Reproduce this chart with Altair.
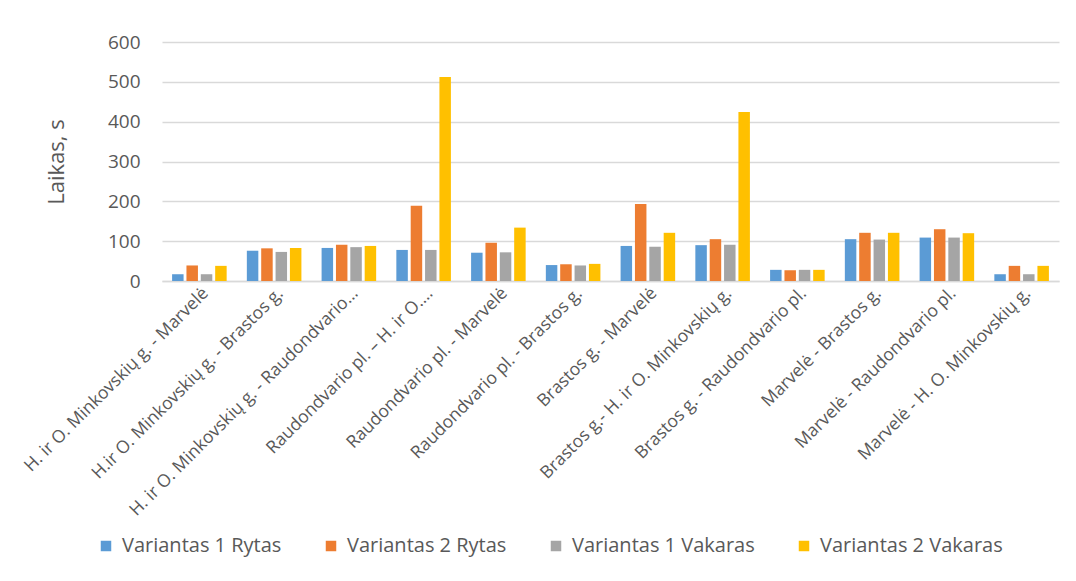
import altair as alt
import pandas as pd

categories = [
    "H. ir O. Minkovskių g. - Marvelė",
    "H.ir O. Minkovskių g. - Brastos g.",
    "H. ir O. Minkovskių g. - Raudondvario…",
    "Raudondvario pl. – H. ir O.…",
    "Raudondvario pl. - Marvelė",
    "Raudondvario pl. - Brastos g.",
    "Brastos g. - Marvelė",
    "Brastos g.- H. ir O. Minkovskių g.",
    "Brastos g. - Raudondvario pl.",
    "Marvelė - Brastos g.",
    "Marvelė - Raudondvario pl.",
    "Marvelė - H. O. Minkovskių g.",
]
series = ["Variantas 1 Rytas", "Variantas 2 Rytas", "Variantas 1 Vakaras", "Variantas 2 Vakaras"]
v1_rytas = [17, 76, 83, 78, 71, 40, 88, 90, 28, 105, 109, 17]
v2_rytas = [39, 82, 91, 189, 96, 42, 193, 105, 27, 121, 130, 38]
v1_vakaras = [17, 73, 85, 78, 72, 39, 86, 91, 28, 104, 109, 17]
v2_vakaras = [38, 83, 88, 512, 134, 43, 121, 424, 28, 121, 120, 38]
colors = ["#5B9BD5", "#ED7D31", "#A5A5A5", "#FFC000"]
y_ticks = [0, 100, 200, 300, 400, 500, 600]

rows = []
for s, vals in zip(series, [v1_rytas, v2_rytas, v1_vakaras, v2_vakaras]):
    for c, v in zip(categories, vals):
        rows.append({"Kelias": c, "Serija": s, "Laikas": v})
df = pd.DataFrame(rows)

FONT = "Open Sans"
TXT = "#595959"

chart = alt.Chart(df).mark_bar().encode(
    x=alt.X("Kelias:N", sort=categories,
            scale=alt.Scale(paddingInner=0.27, paddingOuter=0.135),
            axis=alt.Axis(title=None, labelAngle=-45, labelAlign="right", labelBaseline="top",
                          labelFontSize=17.5, labelColor=TXT, labelFont=FONT, labelLimit=400,
                          labelPadding=3, ticks=False, domainColor="#D9D9D9", domainWidth=1.5,
                          grid=False)),
    xOffset=alt.XOffset("Serija:N", sort=series, scale=alt.Scale(paddingInner=0.2, paddingOuter=0)),
    y=alt.Y("Laikas:Q", scale=alt.Scale(domain=[0, 600], nice=False),
            axis=alt.Axis(title="Laikas, s", values=y_ticks, labelFontSize=19, labelColor=TXT,
                          labelFont=FONT, labelPadding=22, ticks=False, domain=False,
                          gridColor="#D9D9D9", gridWidth=1.5, titleFontSize=22,
                          titleColor=TXT, titleFont=FONT, titleFontWeight="normal",
                          titlePadding=39)),
    color=alt.Color("Serija:N", sort=series, scale=alt.Scale(domain=series, range=colors),
                    legend=alt.Legend(title=None, orient="none", direction="horizontal",
                                      columns=4, legendX=-66, legendY=494,
                                      symbolType="square", symbolSize=110, symbolStrokeWidth=0,
                                      labelFontSize=20, labelColor=TXT, labelFont=FONT,
                                      labelLimit=400, columnPadding=39, labelOffset=6)),
).properties(
    width=897,
    height=239,
    autosize=alt.AutoSizeParams(type="none"),
    padding={"left": 154, "top": 34, "right": 5, "bottom": 285},
).configure_view(stroke=None)

chart.save("out.html", embed_options={"renderer": "svg", "actions": False})
